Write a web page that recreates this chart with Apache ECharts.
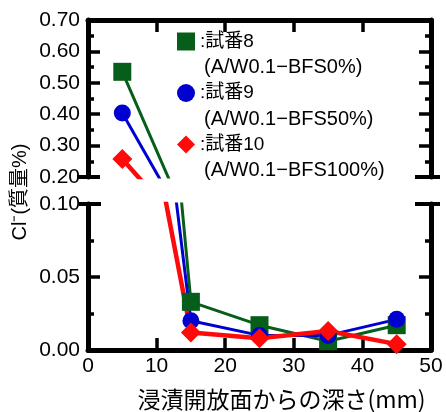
<!DOCTYPE html>
<html>
<head>
<meta charset="utf-8">
<script src="https://cdn.jsdelivr.net/npm/echarts@6/dist/echarts.min.js"></script>
<style>
html, body { margin: 0; padding: 0; background: #fff; }
#myCharts { width: 446px; height: 412px; }
</style>
</head>
<body>
<div id="myCharts"></div>
<script>
// depth from the exposed face (mm)
const depths = [5, 15, 25, 35, 45]
// Cl- (mass %)
const clNo8 = [0.535, 0.033, 0.017, 0.006, 0.017]
const clNo9 = [0.404, 0.020, 0.010, 0.010, 0.021]
const clNo10 = [0.257, 0.012, 0.008, 0.013, 0.004]

const seriesNames = ['試番8', '試番9', '試番10']
const mixNames = ['(A/W0.1−BFS0%)', '(A/W0.1−BFS50%)', '(A/W0.1−BFS100%)']

// axis ranges: [min, max, interval]
const xRange = [0, 50, 10]
const upperRange = [0.2, 0.7, 0.1]
const lowerRange = [0, 0.1, 0.05]

const colors = ['#075e1b', '#0000d0', '#ff0a0a']
const symbols = ['rect', 'circle', 'diamond']
const symbolSizes = [18, 17, 20]
const lineWidths = [3, 3, 4.5]

const FONT = "'Liberation Sans', 'Noto Sans CJK JP', sans-serif"

let myChart = echarts.init(document.getElementById('myCharts'))

// x axis (top one has no labels)
function makeXAxis(gridIndex, position, showLabel) {
    return {
        type: 'value',
        gridIndex: gridIndex,
        position: position,
        min: xRange[0],
        max: xRange[1],
        interval: xRange[2],
        axisLine: { lineStyle: { color: '#000', width: 5 } },
        axisTick: { inside: true, length: 12, lineStyle: { color: '#000', width: 3.5 } },
        axisLabel: {
            show: showLabel,
            margin: 6,
            fontSize: 21,
            color: '#000',
            fontFamily: FONT
        },
        splitLine: { show: false },
        name: showLabel ? '浸漬開放面からの深さ(mm)' : '',
        nameLocation: 'middle',
        nameGap: 38,
        nameTextStyle: {
            fontSize: 23,
            color: '#000',
            fontFamily: "'Noto Sans CJK JP', sans-serif",
            padding: [0, 0, 0, 44]
        }
    }
}

// y axis, left one gets labels
function makeYAxis(gridIndex, range, position) {
    return {
        type: 'value',
        gridIndex: gridIndex,
        position: position,
        min: range[0],
        max: range[1],
        interval: range[2],
        axisLine: { show: true, lineStyle: { color: '#000', width: 5 } },
        axisTick: { show: true, inside: true, length: 12, lineStyle: { color: '#000', width: 3.5 } },
        minorTick: { show: true, splitNumber: 2, length: 6, lineStyle: { color: '#000', width: 3.5 } },
        axisLabel: {
            show: position === 'left',
            margin: 8,
            fontSize: 21,
            color: '#000',
            fontFamily: FONT,
            formatter: v => v.toFixed(2)
        },
        splitLine: { show: false }
    }
}

function makeSeries(i, values, gridIndex) {
    return {
        name: seriesNames[i],
        type: 'line',
        xAxisIndex: gridIndex,
        yAxisIndex: gridIndex * 2,
        data: depths.map((d, k) => [d, values[k]]),
        clip: true,
        symbol: symbols[i],
        symbolSize: symbolSizes[i],
        showAllSymbol: true,
        itemStyle: { color: colors[i] },
        lineStyle: { color: colors[i], width: lineWidths[i] },
        emphasis: { disabled: true },
        animation: false
    }
}

const allValues = [clNo8, clNo9, clNo10]
let series = []
// upper part first, then the lower part
for (let g = 0; g < 2; g++) {
    allValues.forEach((vals, i) => series.push(makeSeries(i, vals, g)))
}

let options = {
    animation: false,
    grid: [
        { left: 88, right: 15, top: 20, height: 157 },
        { left: 88, right: 15, top: 204, height: 158 }
    ],
    xAxis: [makeXAxis(0, 'top', false), makeXAxis(1, 'bottom', true)],
    yAxis: [
        makeYAxis(0, upperRange, 'left'),
        makeYAxis(0, upperRange, 'right'),
        makeYAxis(1, lowerRange, 'left'),
        makeYAxis(1, lowerRange, 'right')
    ],
    legend: {
        orient: 'vertical',
        left: 177,
        top: 32,
        padding: 0,
        itemWidth: 18,
        itemHeight: 18,
        itemGap: 6,
        selectedMode: false,
        data: seriesNames.map((n, i) => ({ name: n, icon: symbols[i] })),
        formatter: name => {
            const i = seriesNames.indexOf(name)
            return '{a|:' + name + '}\n{b|' + mixNames[i] + '}'
        },
        textStyle: {
            padding: [26, 0, 0, 0],
            rich: {
                a: { fontSize: 19, lineHeight: 26, color: '#000', fontFamily: FONT },
                b: { fontSize: 20, lineHeight: 26, color: '#000', fontFamily: FONT, padding: [0, 0, 0, 4] }
            }
        }
    },
    series: series
}

myChart.setOption(options)

// axis break marks and the y axis title
const ul = myChart.convertToPixel({ gridIndex: 0 }, [xRange[0], upperRange[0]])
const ur = myChart.convertToPixel({ gridIndex: 0 }, [xRange[1], upperRange[0]])
const ll = myChart.convertToPixel({ gridIndex: 1 }, [xRange[0], lowerRange[1]])
const lr = myChart.convertToPixel({ gridIndex: 1 }, [xRange[1], lowerRange[1]])

function breakMark(p, toLeft, toRight) {
    return {
        type: 'line',
        shape: { x1: p[0] - toLeft, y1: p[1], x2: p[0] + toRight, y2: p[1] },
        style: { stroke: '#000', lineWidth: 4 },
        silent: true
    }
}

myChart.setOption({
    graphic: [
        breakMark(ul, 11, 12),
        breakMark(ur, 16, 9),
        breakMark(ll, 9, 13),
        breakMark(lr, 16, 9),
        {
            type: 'text',
            x: 20,
            y: 192,
            rotation: Math.PI / 2,
            style: {
                text: 'Cl⁻(質量%)',
                fontSize: 20,
                fontFamily: FONT,
                fill: '#000',
                textAlign: 'center',
                textVerticalAlign: 'middle'
            }
        }
    ]
})
</script>
</body>
</html>
